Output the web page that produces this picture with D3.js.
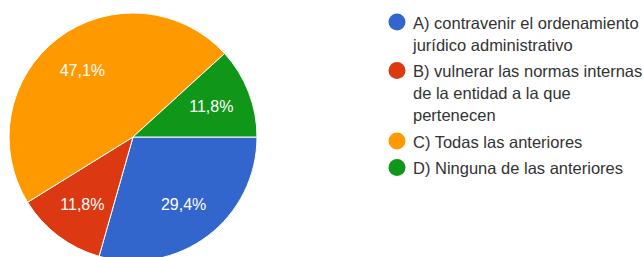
<!DOCTYPE html>
<html>
<head>
<meta charset="utf-8">
<script src="https://cdn.jsdelivr.net/npm/d3@7"></script>
<style>
  body { margin: 0; background: #fff; }
  svg { display: block; font-family: "Liberation Sans", Arial, sans-serif; }
</style>
</head>
<body>
<svg width="643" height="257"></svg>
<script>
const categories = ["A", "B", "C", "D"];
const counts     = [5, 2, 8, 2];
const sliceText  = ["29,4%", "11,8%", "47,1%", "11,8%"];
const legendText = [
  ["A) contravenir el ordenamiento", "jurídico administrativo"],
  ["B) vulnerar las normas internas", "de la entidad a la que", "pertenecen"],
  ["C) Todas las anteriores"],
  ["D) Ninguna de las anteriores"]
];
const colors = ["#3366cc", "#dc3912", "#ff9900", "#109618"];

const svg = d3.select("svg");
const cx = 133, cy = 137, r = 124;

const color = d3.scaleOrdinal().domain(categories).range(colors);

// slices start at 3 o'clock and go clockwise
const pie = d3.pie().sort(null).value(d => d.count)
  .startAngle(Math.PI / 2).endAngle(Math.PI / 2 + 2 * Math.PI);
const data = categories.map((c, i) => ({ cat: c, count: counts[i], label: sliceText[i] }));
const arcs = pie(data);

const arc = d3.arc().innerRadius(0).outerRadius(r);
const labelArc = d3.arc().innerRadius(84).outerRadius(84);

const g = svg.append("g").attr("transform", `translate(${cx},${cy})`);

g.selectAll("path").data(arcs).enter().append("path")
  .attr("d", arc)
  .attr("fill", d => color(d.data.cat))
  .attr("stroke", "#fff")
  .attr("stroke-width", 1);

g.selectAll("text").data(arcs).enter().append("text")
  .attr("transform", d => `translate(${labelArc.centroid(d)})`)
  .attr("dy", "0.36em")
  .attr("text-anchor", "middle")
  .attr("fill", "#fff")
  .style("font-size", "16px")
  .text(d => d.data.label);

// legend
const lx = 397, lineH = 22, gap = 4.5;
let y = 23;
legendText.forEach((lines, i) => {
  const item = svg.append("g");
  item.append("circle")
    .attr("cx", lx).attr("cy", y - 1)
    .attr("r", 8.5)
    .attr("fill", colors[i]);
  lines.forEach((t, j) => {
    item.append("text")
      .attr("x", lx + 16)
      .attr("y", y + j * lineH)
      .attr("dy", "0.36em")
      .attr("fill", "#333")
      .style("font-size", "16.5px")
      .text(t);
  });
  y += lines.length * lineH + gap;
});
</script>
</body>
</html>
